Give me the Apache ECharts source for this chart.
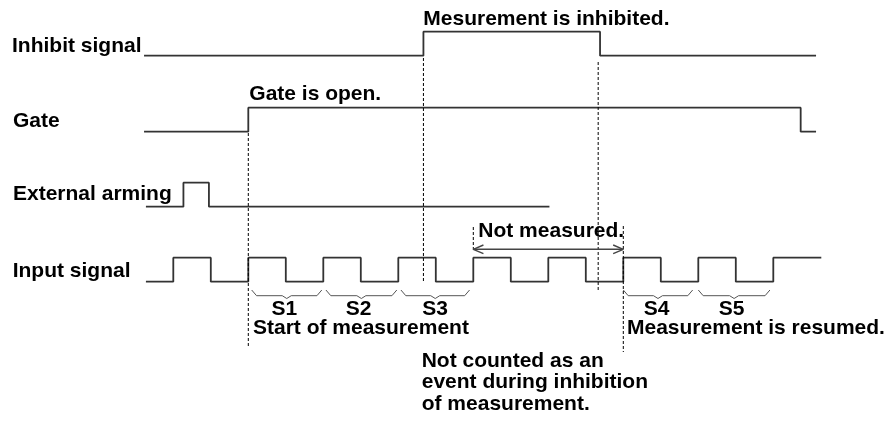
<!DOCTYPE html>
<html>
<head>
<meta charset="utf-8">
<script src="https://cdn.jsdelivr.net/npm/echarts@6/dist/echarts.min.js"></script>
<style>
    html, body { margin: 0; padding: 0; background: #fff; }
    #main { width: 895px; height: 423px; }
</style>
</head>
<body>
<div id="main"></div>
<script>
// edges: [time, level]  (time unit = half period of the input signal)
var inhibitEdges = [[-0.78, 0], [6.67, 1], [11.38, 0], [17.14, 0]];
var gateEdges = [[-0.78, 0], [2.0, 1], [16.73, 0], [17.14, 0]];
var armingEdges = [[-0.73, 0], [0.27, 1], [0.95, 0], [10.03, 0]];
var inputEdges = [[-0.73, 0], [0, 1], [1, 0], [2, 1], [3, 0], [4, 1], [5, 0], [6, 1], [7, 0],
    [8, 1], [9, 0], [10, 1], [11, 0], [12, 1], [13, 0], [14, 1], [15, 0], [16, 1], [17.28, 1]];
var rowNames = ['Inhibit signal', 'Gate', 'External arming', 'Input signal'];

// measured intervals S1..S5
var sNames = ['S1', 'S2', 'S3', 'S4', 'S5'];
var sIntervals = [[2.09, 3.96], [4.07, 5.96], [6.07, 7.9], [12.0, 13.85], [14.0, 15.91]];
var sLabelTimes = [2.96, 4.94, 6.98, 12.89, 14.89];

// event times marked with dotted lines
var gateOpenTime = 2.0;
var inhibitStart = 6.67;
var inhibitEnd = 11.33;
var notMeasured = [8, 12];

// layout
var rowLow = [55.7, 131.7, 206.7, 281.7];
var levelH = 24;
var font = 'bold 21px "Liberation Sans", Arial, sans-serif';

var myChart = echarts.init(document.getElementById('main'));

function wave(edges, row) {
    return edges.map(function (e) { return [e[0], rowLow[row] - e[1] * levelH]; });
}

function thin(data, color, width, type) {
    return {
        type: 'line', data: data, symbol: 'none', showSymbol: false, clip: false,
        silent: true, animation: false,
        lineStyle: { color: color, width: width, type: type || 'solid' }
    };
}

var series = [];
[inhibitEdges, gateEdges, armingEdges, inputEdges].forEach(function (edges, i) {
    var s = thin(wave(edges, i), '#333', 1.8);
    s.step = 'end';
    series.push(s);
});

// dotted markers
var dots = [
    [gateOpenTime, 133, 348],
    [inhibitStart, 58, 283],
    [inhibitEnd, 62, 290],
    [notMeasured[0], 227, 251],
    [notMeasured[1], 226, 352]
];
dots.forEach(function (d) {
    series.push(thin([[d[0], d[1]], [d[0], d[2]]], '#000', 1, [3, 2]));
});

// "Not measured." arrow
var ay = 249.3;
series.push(thin([[notMeasured[0], ay], [notMeasured[1], ay]], '#444', 1.4));
series.push(thin([[notMeasured[0] + 0.27, ay - 4.3], [notMeasured[0], ay], [notMeasured[0] + 0.27, ay + 4.3]], '#444', 1.4));
series.push(thin([[notMeasured[1] - 0.27, ay - 4.3], [notMeasured[1], ay], [notMeasured[1] - 0.27, ay + 4.3]], '#444', 1.4));

// braces
sIntervals.forEach(function (iv) {
    var a = iv[0], b = iv[1], m = (a + b) / 2;
    series.push(thin([[a, 290], [a + 0.13, 295.7], [m - 0.12, 295.7], [m, 298.5],
        [m + 0.12, 295.7], [b - 0.13, 295.7], [b, 290]], '#555', 1));
});

var texts = [
    [rowNames[0], 12, 53.3],
    [rowNames[1], 13, 128.3],
    [rowNames[2], 13, 201.7],
    [rowNames[3], 12.7, 278.3],
    ['Mesurement is inhibited.', 423.3, 26.7],
    ['Gate is open.', 249.3, 101.7],
    ['Not measured.', 478.3, 238.3],
    ['Start of measurement', 253, 336],
    ['Measurement is resumed.', 627, 336],
    ['Not counted as an', 421.7, 368.3],
    ['event during inhibition', 421.7, 390],
    ['of measurement.', 421.7, 411.7]
];

function textEl(str, x, baseline, align) {
    return {
        type: 'text', x: x, y: baseline - 7.4, silent: true,
        style: {
            text: str, font: font, fill: '#000',
            align: align, textAlign: align,
            verticalAlign: 'middle', textVerticalAlign: 'middle'
        }
    };
}

option = {
    backgroundColor: '#fff',
    animation: false,
    grid: { left: 135.8, right: 46.7, top: 0, bottom: 0 },
    xAxis: { type: 'value', min: -1, max: 18, show: false },
    yAxis: { type: 'value', min: 0, max: 423, inverse: true, show: false },
    series: series
};
myChart.setOption(option);

// S1..S5 labels, centred on their measured times through the x axis
var graphics = texts.map(function (t) { return textEl(t[0], t[1], t[2], 'left'); });
sNames.forEach(function (n, i) {
    var px = myChart.convertToPixel({ gridIndex: 0 }, [sLabelTimes[i], 0])[0];
    graphics.push(textEl(n, px, 316.9, 'center'));
});
myChart.setOption({ graphic: graphics });

window.addEventListener('resize', function () {
    myChart.resize();
});
</script>
</body>
</html>
